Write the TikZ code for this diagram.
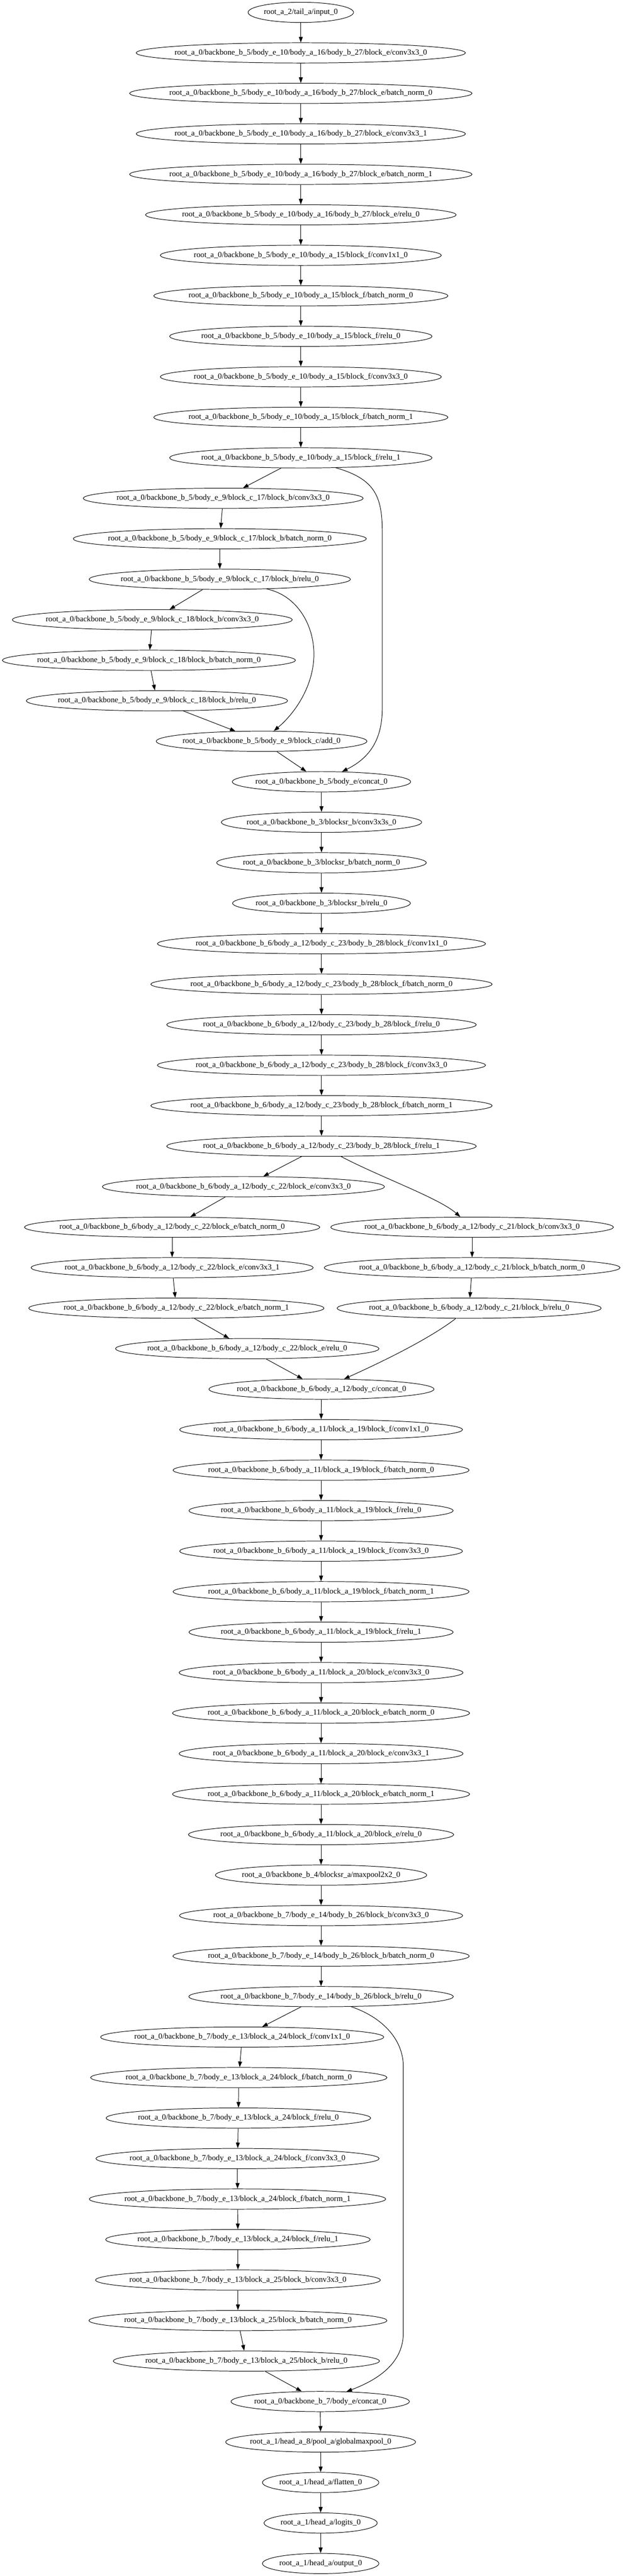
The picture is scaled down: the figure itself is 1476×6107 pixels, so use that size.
\documentclass[tikz,border=0pt]{standalone}
\usepackage{fontspec}
\setmainfont{Liberation Serif}
\usetikzlibrary{arrows.meta,shapes.geometric,calc}
\newcommand\gvfont{\fontsize{14pt}{16.8pt}\selectfont}
\tikzset{
  gvtext/.style={inner sep=0pt, font=\gvfont},
  gvnode/.style={draw, ellipse, line width=0.9pt, inner sep=0pt, minimum height=36pt},
  gvedge/.style={draw, line width=0.9pt, -{Triangle[length=10pt,width=7pt]}},
}
\newcommand\gvn[4]{%
  \node[gvtext] (#1t) at (#2,{29.33+96*#3}) {#4};%
  \path let \p1=($(#1t.east)-(#1t.west)$), \n1={1.254*\x1+22.2pt} in
    node[gvnode, minimum width=\n1] (#1) at (#1t.center) {};%
}
\newcommand\gvpA{root\_a\_0/backbone\_b\_5/body\_e\_10/body\_a\_16/body\_b\_27/block\_e/}
\newcommand\gvpB{root\_a\_0/backbone\_b\_5/body\_e\_10/body\_a\_15/block\_f/}
\newcommand\gvpC{root\_a\_0/backbone\_b\_5/body\_e\_9/block\_c\_17/block\_b/}
\newcommand\gvpD{root\_a\_0/backbone\_b\_5/body\_e\_9/block\_c\_18/block\_b/}
\newcommand\gvpE{root\_a\_0/backbone\_b\_3/blocksr\_b/}
\newcommand\gvpF{root\_a\_0/backbone\_b\_6/body\_a\_12/body\_c\_23/body\_b\_28/block\_f/}
\newcommand\gvpG{root\_a\_0/backbone\_b\_6/body\_a\_12/body\_c\_22/block\_e/}
\newcommand\gvpH{root\_a\_0/backbone\_b\_6/body\_a\_12/body\_c\_21/block\_b/}
\newcommand\gvpI{root\_a\_0/backbone\_b\_6/body\_a\_11/block\_a\_19/block\_f/}
\newcommand\gvpJ{root\_a\_0/backbone\_b\_6/body\_a\_11/block\_a\_20/block\_e/}
\newcommand\gvpK{root\_a\_0/backbone\_b\_7/body\_e\_14/body\_b\_26/block\_b/}
\newcommand\gvpL{root\_a\_0/backbone\_b\_7/body\_e\_13/block\_a\_24/block\_f/}
\newcommand\gvpM{root\_a\_0/backbone\_b\_7/body\_e\_13/block\_a\_25/block\_b/}
\begin{document}
\begin{tikzpicture}[x=0.75pt,y=-0.75pt]
\fill[white] (0,0) rectangle (1476,6107);
\useasboundingbox (0,0) rectangle (1476,6107);
% nodes
\gvn{n0}{713}{0}{root\_a\_2/tail\_a/input\_0}
\gvn{n1}{713}{1}{\gvpA conv3x3\_0}
\gvn{n2}{713}{2}{\gvpA batch\_norm\_0}
\gvn{n3}{713}{3}{\gvpA conv3x3\_1}
\gvn{n4}{713}{4}{\gvpA batch\_norm\_1}
\gvn{n5}{713}{5}{\gvpA relu\_0}
\gvn{n6}{713}{6}{\gvpB conv1x1\_0}
\gvn{n7}{713}{7}{\gvpB batch\_norm\_0}
\gvn{n8}{713}{8}{\gvpB relu\_0}
\gvn{n9}{713}{9}{\gvpB conv3x3\_0}
\gvn{n10}{713}{10}{\gvpB batch\_norm\_1}
\gvn{n11}{713}{11}{\gvpB relu\_1}
\gvn{n12}{529}{12}{\gvpC conv3x3\_0}
\gvn{n13}{521}{13}{\gvpC batch\_norm\_0}
\gvn{n14}{521}{14}{\gvpC relu\_0}
\gvn{n15}{361}{15}{\gvpD conv3x3\_0}
\gvn{n16}{353}{16}{\gvpD batch\_norm\_0}
\gvn{n17}{372}{17}{\gvpD relu\_0}
\gvn{n18}{620}{18}{root\_a\_0/backbone\_b\_5/body\_e\_9/block\_c/add\_0}
\gvn{n19}{762}{19}{root\_a\_0/backbone\_b\_5/body\_e/concat\_0}
\gvn{n20}{762}{20}{\gvpE conv3x3s\_0}
\gvn{n21}{762}{21}{\gvpE batch\_norm\_0}
\gvn{n22}{762}{22}{\gvpE relu\_0}
\gvn{n23}{762}{23}{\gvpF conv1x1\_0}
\gvn{n24}{762}{24}{\gvpF batch\_norm\_0}
\gvn{n25}{762}{25}{\gvpF relu\_0}
\gvn{n26}{762}{26}{\gvpF conv3x3\_0}
\gvn{n27}{762}{27}{\gvpF batch\_norm\_1}
\gvn{n28}{762}{28}{\gvpF relu\_1}
\gvn{n29}{577}{29}{\gvpG conv3x3\_0}
\gvn{n30}{408}{30}{\gvpG batch\_norm\_0}
\gvn{n31}{408}{31}{\gvpG conv3x3\_1}
\gvn{n32}{418}{32}{\gvpG batch\_norm\_1}
\gvn{n33}{586}{33}{\gvpG relu\_0}
\gvn{b30}{1119}{30}{\gvpH conv3x3\_0}
\gvn{b31}{1119}{31}{\gvpH batch\_norm\_0}
\gvn{b32}{1112}{32}{\gvpH relu\_0}
\gvn{n34}{762}{34}{root\_a\_0/backbone\_b\_6/body\_a\_12/body\_c/concat\_0}
\gvn{n35}{761}{35}{\gvpI conv1x1\_0}
\gvn{n36}{761}{36}{\gvpI batch\_norm\_0}
\gvn{n37}{761}{37}{\gvpI relu\_0}
\gvn{n38}{761}{38}{\gvpI conv3x3\_0}
\gvn{n39}{761}{39}{\gvpI batch\_norm\_1}
\gvn{n40}{761}{40}{\gvpI relu\_1}
\gvn{n41}{761}{41}{\gvpJ conv3x3\_0}
\gvn{n42}{761}{42}{\gvpJ batch\_norm\_0}
\gvn{n43}{761}{43}{\gvpJ conv3x3\_1}
\gvn{n44}{761}{44}{\gvpJ batch\_norm\_1}
\gvn{n45}{761}{45}{\gvpJ relu\_0}
\gvn{n46}{761}{46}{root\_a\_0/backbone\_b\_4/blocksr\_a/maxpool2x2\_0}
\gvn{n47}{761}{47}{\gvpK conv3x3\_0}
\gvn{n48}{761}{48}{\gvpK batch\_norm\_0}
\gvn{n49}{761}{49}{\gvpK relu\_0}
\gvn{n50}{574}{50}{\gvpL conv1x1\_0}
\gvn{n51}{566}{51}{\gvpL batch\_norm\_0}
\gvn{n52}{565}{52}{\gvpL relu\_0}
\gvn{n53}{563}{53}{\gvpL conv3x3\_0}
\gvn{n54}{563}{54}{\gvpL batch\_norm\_1}
\gvn{n55}{564}{55}{\gvpL relu\_1}
\gvn{n56}{564}{56}{\gvpM conv3x3\_0}
\gvn{n57}{564}{57}{\gvpM batch\_norm\_0}
\gvn{n58}{584}{58}{\gvpM relu\_0}
\gvn{n59}{759}{59}{root\_a\_0/backbone\_b\_7/body\_e/concat\_0}
\gvn{n60}{760}{60}{root\_a\_1/head\_a\_8/pool\_a/globalmaxpool\_0}
\gvn{n61}{760}{61}{root\_a\_1/head\_a/flatten\_0}
\gvn{n62}{760}{62}{root\_a\_1/head\_a/logits\_0}
\gvn{n63}{760}{63}{root\_a\_1/head\_a/output\_0}
% consecutive edges
\foreach \i in {0,...,62}{\pgfmathtruncatemacro\j{\i+1}\draw[gvedge] (n\i) -- (n\j);}
% branch edges
\draw[gvedge] (n28) .. controls (900,2790) and (1040,2840) .. (b30);
\draw[gvedge] (b30) -- (b31);
\draw[gvedge] (b31) -- (b32);
\draw[gvedge] (b32) .. controls (1010,3180) and (880,3240) .. (n34);
% skip edges
\draw[gvedge] (n14) .. controls (703,1411) and (744,1480) .. (744,1551) .. controls (744,1625) and (700,1690) .. (n18);
\draw[gvedge] (n11) .. controls (887,1135) and (906,1175) .. (906,1260) -- (906,1680) .. controls (906,1760) and (870,1800) .. (n19);
\draw[gvedge] (n49) .. controls (900,4780) and (956,4830) .. (956,4900) -- (956,5530) .. controls (956,5600) and (900,5640) .. (n59);
\end{tikzpicture}
\end{document}
